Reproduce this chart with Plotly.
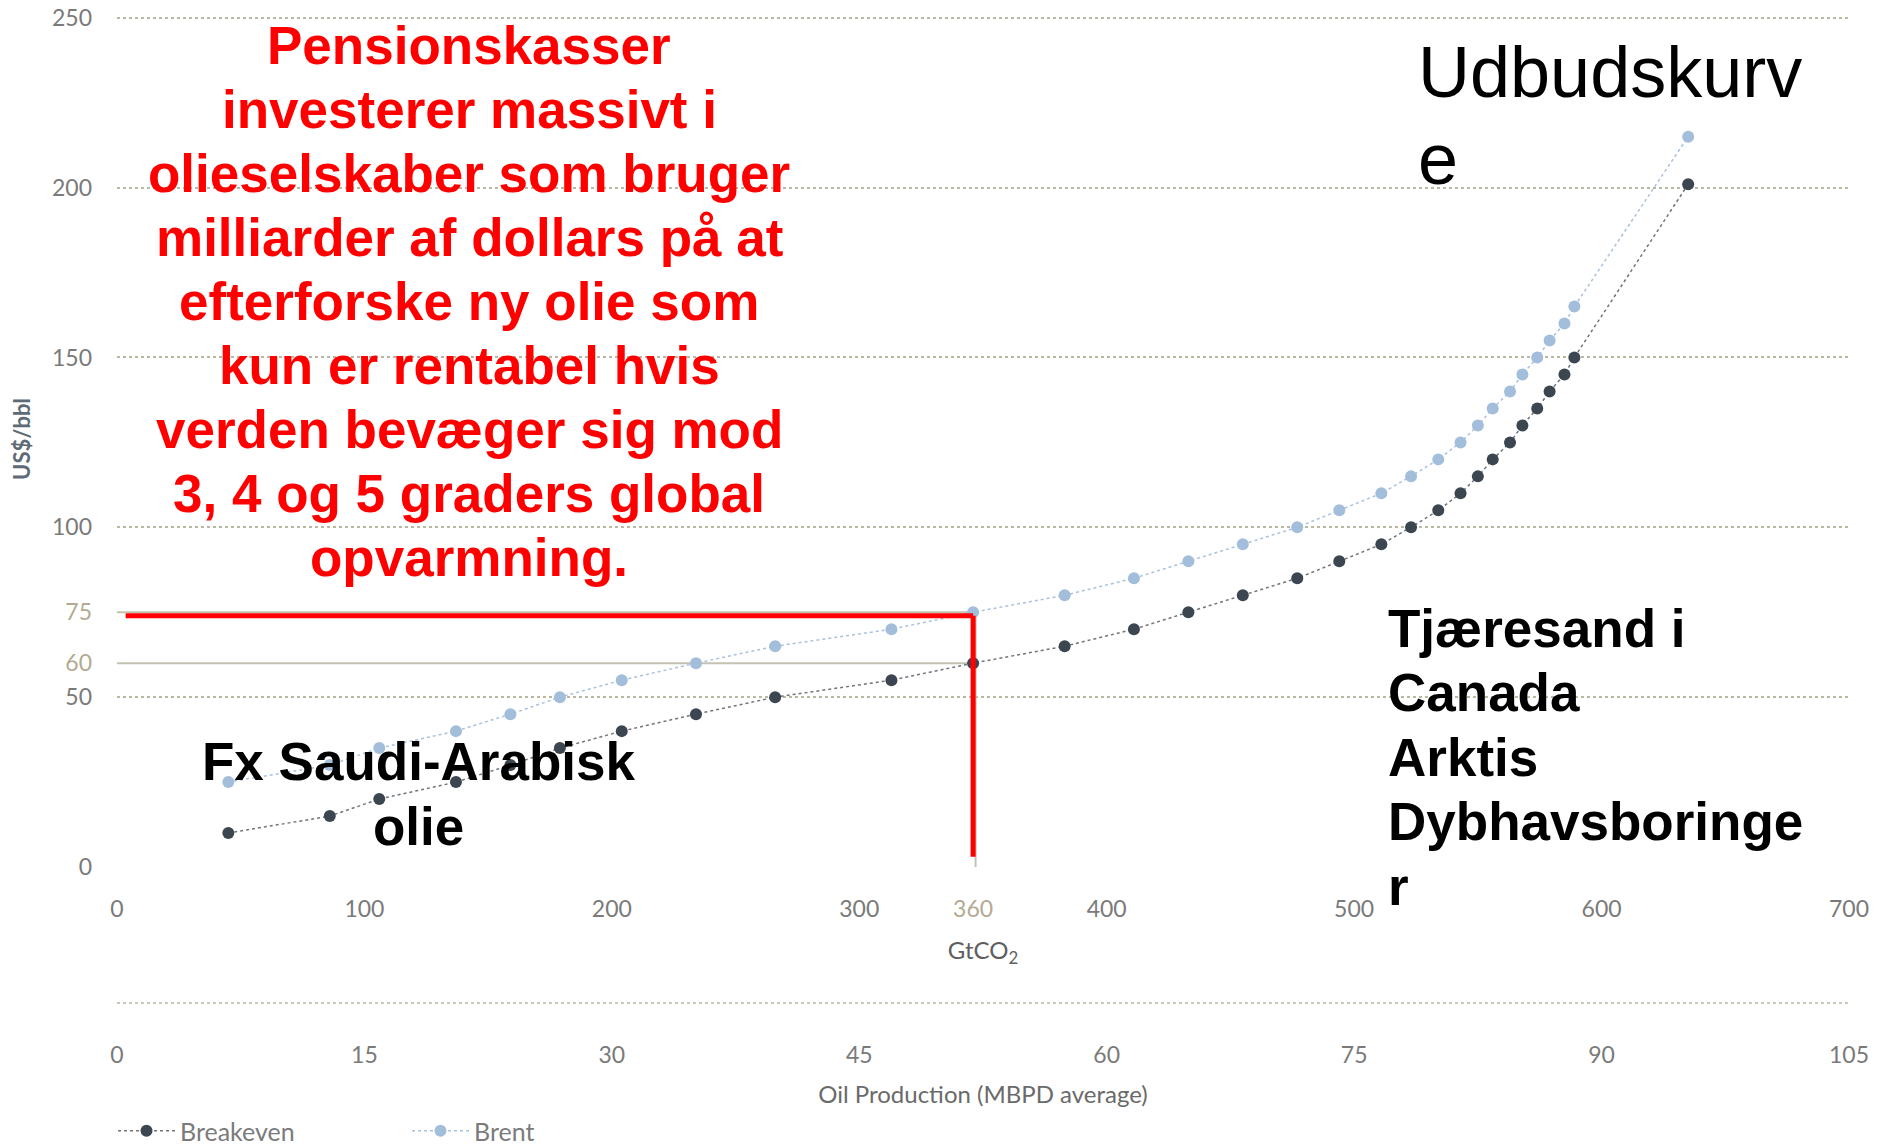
import plotly.graph_objects as go

# ---- data ----
gtco2 = [45, 86, 106, 137, 159, 179, 204, 234, 266, 313, 346, 383, 411, 433, 455,
         477, 494, 511, 523, 534, 543, 550, 556, 563, 568, 574, 579, 585, 589, 635]
breakeven = [10, 15, 20, 25, 30, 35, 40, 45, 50, 55, 60, 65, 70, 75, 80,
             85, 90, 95, 100, 105, 110, 115, 120, 125, 130, 135, 140, 145, 150, 201]
brent = [25, 30, 35, 40, 45, 50, 55, 60, 65, 70, 75, 80, 85, 90, 95,
         100, 105, 110, 115, 120, 125, 130, 135, 140, 145, 150, 155, 160, 165, 215]

x_ticks = [0, 100, 200, 300, 346, 400, 500, 600, 700]
x_ticktext = ["0", "100", "200", "300", "<span style='color:#b3aa92'>360</span>",
              "400", "500", "600", "700"]
y_ticks = [0, 50, 60, 75, 100, 150, 200, 250]
y_ticktext = ["0", "50", "<span style='color:#b3aa92'>60</span>",
              "<span style='color:#b3aa92'>75</span>", "100", "150", "200", "250"]
y_grid = [0, 50, 100, 150, 200, 250]
mbpd_ticks = [0, 15, 30, 45, 60, 75, 90, 105]

threshold_x = 346
brent_price = 75
breakeven_price = 60

red_lines = ["Pensionskasser", "investerer massivt i", "olieselskaber som bruger",
             "milliarder af dollars på at", "efterforske ny olie som",
             "kun er rentabel hvis", "verden bevæger sig mod",
             "3, 4 og 5 graders global", "opvarmning."]
supply_lines = ["Udbudskurv", "e"]
saudi_lines = ["Fx Saudi-Arabisk", "olie"]
arctic_lines = ["Tjæresand i", "Canada", "Arktis", "Dybhavsboringe", "r"]

TICKFONT = "Lato, 'Open Sans', sans-serif"
BIGFONT = "'Liberation Sans', Arial, sans-serif"
GRIDCOL = "#b9b8a2"

Y_TOP = 252  # a little head-room so the 250 grid line / label is drawn
OFF = 8      # default page body margin
W, H = 1877 - OFF, 1146 - OFF
PX_PER_UNIT = (867 - 18) / 250
ML, MR, MB = 117 - OFF, 28, 143
MT = round(867 - Y_TOP * PX_PER_UNIT - OFF)
PW, PH = W - ML - MR, H - MT - MB


def paper(px, py):
    """page pixel -> paper fraction (for text placement only)"""
    return (px - OFF - ML) / PW, (H - MB - (py - OFF)) / PH


fig = go.Figure()

fig.add_trace(go.Scatter(
    x=gtco2, y=breakeven, name="Breakeven", mode="lines+markers",
    line=dict(color="#6f757b", width=1.5, dash="dot"),
    marker=dict(color="#3b4650", size=12), cliponaxis=False))
fig.add_trace(go.Scatter(
    x=gtco2, y=brent, name="Brent", mode="lines+markers",
    line=dict(color="#a9c1dc", width=1.5, dash="dot"),
    marker=dict(color="#a3bedb", size=12), cliponaxis=False))
# carrier for the oil production axis
fig.add_trace(go.Scatter(
    x=[mbpd_ticks[0], mbpd_ticks[-1]], y=[None, None], xaxis="x2",
    mode="markers", showlegend=False, hoverinfo="skip"))

# grey reference lines (original chart)
fig.add_shape(type="line", x0=0, x1=threshold_x, y0=breakeven_price, y1=breakeven_price,
              line=dict(color="#c4c2b0", width=2), layer="below")
fig.add_shape(type="line", x0=0, x1=threshold_x, y0=brent_price, y1=brent_price,
              line=dict(color="#c4c2b0", width=2), layer="below")
fig.add_shape(type="line", x0=threshold_x + 1, x1=threshold_x + 1, y0=0, y1=brent_price,
              line=dict(color="#c4c2b0", width=2), layer="below")
# red overlay
fig.add_shape(type="line", x0=3.5, x1=threshold_x, y0=brent_price - 1, y1=brent_price - 1,
              line=dict(color="#ff0000", width=5))
fig.add_shape(type="line", x0=threshold_x, x1=threshold_x, y0=3, y1=brent_price - 1,
              line=dict(color="#ff0000", width=5))
# dotted separator line above oil-production axis
fig.add_shape(type="line", xref="paper", yref="paper", x0=0, x1=1, y0=0, y1=0,
              line=dict(color=GRIDCOL, width=1.5, dash="dot"))

ann = []


def add_text(lines, px, py0, step, anchor, size, bold):
    for i, t in enumerate(lines):
        x, y = paper(px, py0 + step * i)
        ann.append(dict(x=x, y=y, xref="paper", yref="paper", text=t, showarrow=False,
                        xanchor=anchor, yanchor="middle",
                        font=dict(family=BIGFONT, size=size,
                                  color="#ff0000" if lines is red_lines else "#000000",
                                  weight="bold" if bold else "normal")))


add_text(red_lines, 469, 45, 64.1, "center", 53, True)
add_text(supply_lines, 1416, 72, 87, "left", 72, False)
add_text(saudi_lines, 418, 761, 65, "center", 53, True)
add_text(arctic_lines, 1386, 628, 64.5, "left", 53, True)

ydom0 = (H - MB - (867 - OFF)) / PH

fig.update_layout(
    width=W, height=H,
    margin=dict(l=ML, r=MR, t=MT, b=MB, autoexpand=False),
    paper_bgcolor="white", plot_bgcolor="white",
    font=dict(family=TICKFONT, color="#6e6e6e", size=23),
    showlegend=True,
    legend=dict(orientation="h", xref="container", yref="container",
                x=(ML - 4) / W, xanchor="left", y=(H - (1131 - OFF)) / H, yanchor="middle",
                font=dict(family=TICKFONT, size=25, color="#7b7b7b"),
                entrywidth=222, entrywidthmode="pixels", itemwidth=57),
    xaxis=dict(range=[0, 700], anchor="y", tickvals=x_ticks, ticktext=x_ticktext,
               showgrid=False, zeroline=False, showline=False, ticks="",
               ticklabelstandoff=26, automargin=False, ticklabeloverflow="allow",
               tickfont=dict(family=TICKFONT, size=23, color="#7a7a7a"),
               title=dict(text="GtCO<sub>2</sub>", standoff=21,
                          font=dict(family=TICKFONT, size=24, color="#5e5e5e"))),
    xaxis2=dict(range=[0, 105], overlaying="x", anchor="free", position=0, side="bottom",
                tickvals=mbpd_ticks, showgrid=False, zeroline=False, showline=False,
                ticks="", ticklabelstandoff=36,
                automargin=False, ticklabeloverflow="allow",
                tickfont=dict(family=TICKFONT, size=23, color="#7a7a7a"),
                title=dict(text="Oil Production (MBPD average)", standoff=46,
                           font=dict(family=TICKFONT, size=24, color="#6a6a6a"))),
    yaxis=dict(range=[0, Y_TOP], domain=[ydom0, 1], tickvals=y_ticks, ticktext=y_ticktext,
               showgrid=False, zeroline=False, showline=False, ticks="",
               ticklabelstandoff=24, automargin=False, ticklabeloverflow="allow",
               tickfont=dict(family=TICKFONT, size=23, color="#7a7a7a"),
               minor=dict(tickvals=y_grid, showgrid=True, griddash="dot",
                          gridcolor=GRIDCOL, gridwidth=1.5, ticks=""),
               title=dict(text="<b>US$/bbl</b>", standoff=19,
                          font=dict(family=TICKFONT, size=22, color="#5e6a76"))),
    annotations=ann,
)

fig.write_html("out.html")
